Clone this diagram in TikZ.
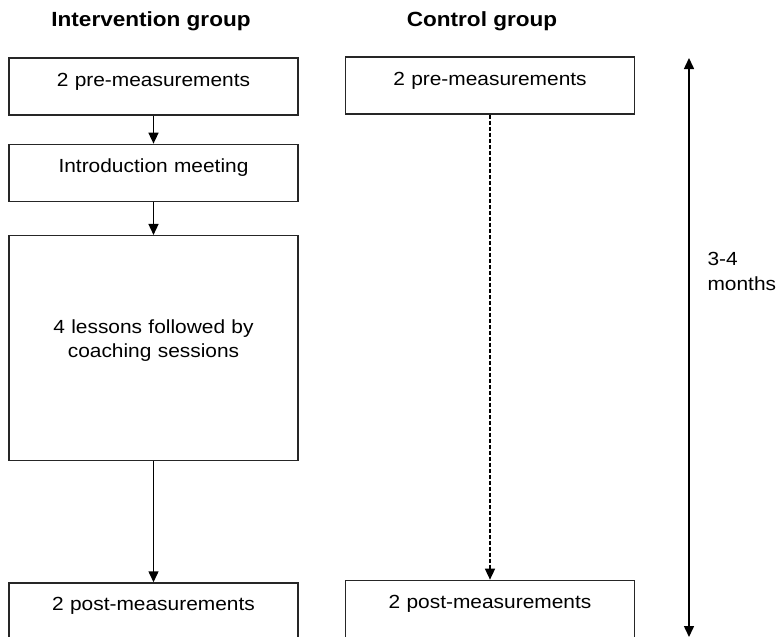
\documentclass[tikz,border=0pt]{standalone}
\usepackage{fontspec}
\setmainfont{Liberation Sans}[FakeStretch=1.1]
\usetikzlibrary{positioning}
\usetikzlibrary{arrows.meta}

\begin{document}
\begin{tikzpicture}[x=1pt,y=-1pt,
  box/.style={draw=black!85, line width=1.3pt, fill=white, inner sep=0pt,
    text width=289pt, align=center, font=\fontsize{19}{24}\selectfont},
  onebox/.style={box, text height=28pt, text depth=29pt},
  head/.style={font=\fontsize{20.5}{24}\selectfont\bfseries},
  link/.style={-{Triangle[length=11pt,width=10pt]}, line width=1.5pt},
  span/.style={{Triangle[length=11pt,width=10pt]}-{Triangle[length=11pt,width=10pt]}, line width=1.5pt}
]

\useasboundingbox (0,0) rectangle (779,637);

% titles
\node[head, anchor=base] (titleI) at (151,27) {Intervention group};
\node[head, anchor=base] (titleC) at (482,27) {Control group};

% intervention group
\node[onebox] (preI) at (153.5,86.5) {2 pre-measurements};
\node[onebox, below=28pt of preI] (intro) {Introduction meeting};
\node[box, text height=98pt, text depth=127pt, below=33pt of intro] (lessons)
  {4 lessons followed by\\ coaching sessions};
\node[onebox, below=121pt of lessons] (postI) {2 post-measurements};

% control group
\node[onebox] (preC) at (490,85.5) {2 pre-measurements};
\node[onebox, below=465pt of preC] (postC) {2 post-measurements};

% arrows
\draw[link] (preI) -- (intro);
\draw[link] (intro) -- (lessons);
\draw[link] (lessons) -- (postI);
\draw[link, dash pattern=on 4pt off 2pt] (preC) -- (postC);

% time span
\coordinate (spantop) at (689,58);
\coordinate (spanbot) at (689,637);
\draw[span] (spantop) -- (spanbot);
\node[anchor=west, align=left, font=\fontsize{19}{25}\selectfont] (months) at (704,271) {3-4\\months};

\end{tikzpicture}
\end{document}
